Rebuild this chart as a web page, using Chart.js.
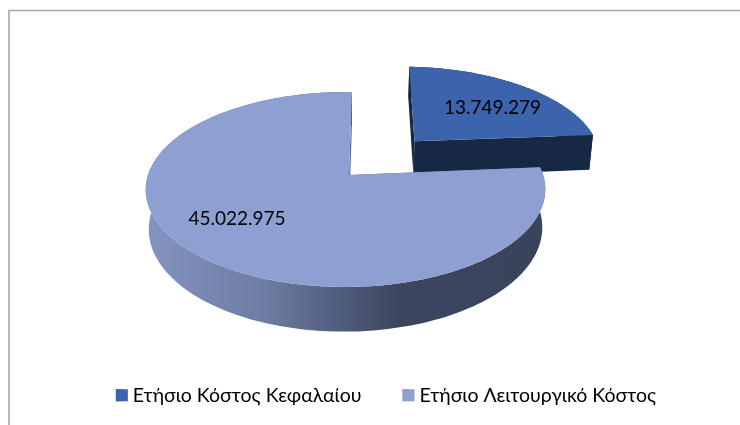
<!DOCTYPE html>
<html><head><meta charset="utf-8">
<style>html,body{margin:0;padding:0;background:#fff}canvas{display:block}</style>
<script src="https://cdn.jsdelivr.net/npm/chart.js@4"></script>
</head><body><canvas id="c" width="740" height="425"></canvas>
<script>
const categories = ["Ετήσιο Κόστος Κεφαλαίου", "Ετήσιο Λειτουργικό Κόστος"];
const values = [13749279, 45022975];
const topColors = ["#3B64AD", "#8EA0D2"];

const FONT = "Lato, 'Noto Sans', sans-serif";
const proj = {cx:349, cy:175, A:197.5, B:95.3, k:0.1487, j:0.0175, depth:38, narrow:0.985};
const explode = [0.515, 0];               // slice pull-out, in radii
const labelShift = [[78,-33],[-112,44]];  // label centre relative to slice apex

function P(u,v,h){
  const w = 1 + proj.k*v + proj.j*u;
  const s = h ? proj.narrow : 1;
  return [proj.cx + s*proj.A*u/w, proj.cy - proj.B*v/w + h*proj.depth/w];
}
function path(ctx,pts){
  ctx.beginPath();
  pts.forEach((p,i)=> i?ctx.lineTo(p[0],p[1]):ctx.moveTo(p[0],p[1]));
  ctx.closePath();
}
function slice3d(ctx,arc,ex,wallFill,radialFill,topFill){
  const mid=(arc.startAngle+arc.endAngle)/2;
  const ox=Math.cos(mid)*ex, oy=-Math.sin(mid)*ex;
  const rim=h=>{const r=[];for(let i=0;i<=160;i++){const t=arc.startAngle+(arc.endAngle-arc.startAngle)*i/160;
    r.push(P(ox+Math.cos(t),oy-Math.sin(t),h));}return r;};
  const c0=P(ox,oy,0), c1=P(ox,oy,1);
  const top=rim(0), bot=rim(1);
  ctx.fillStyle=radialFill;
  path(ctx,[c0,top[0],bot[0],c1]);ctx.fill();
  path(ctx,[c0,top[160],bot[160],c1]);ctx.fill();
  ctx.fillStyle=wallFill;
  path(ctx,top.concat(bot.slice().reverse()));ctx.fill();
  ctx.fillStyle=topFill;
  path(ctx,[c0].concat(top));ctx.fill();
  return c0;
}
const pie3d={id:'pie3d',
  beforeDraw(chart){
    const ctx=chart.ctx;ctx.save();
    ctx.strokeStyle='#a3a3a3';ctx.lineWidth=1.5;
    ctx.beginPath();ctx.moveTo(9,425);ctx.lineTo(9,10.5);ctx.lineTo(740,10.5);ctx.stroke();
    ctx.restore();
  },
  beforeDatasetsDraw(chart){
    const ctx=chart.ctx, arcs=chart.getDatasetMeta(0).data;
    ctx.save();
    const g=ctx.createLinearGradient(146,0,546,0);
    g.addColorStop(0,'#8494c0');g.addColorStop(0.3,'#6d7ca3');g.addColorStop(0.63,'#3b4560');g.addColorStop(1,'#39435b');
    const apex0=slice3d(ctx,arcs[0],explode[0],'#172844','#172844',topColors[0]);
    const apex1=slice3d(ctx,arcs[1],explode[1],g,'#5f6d92',topColors[1]);
    ctx.fillStyle='#000';ctx.font="19px "+FONT;ctx.textAlign='center';ctx.textBaseline='middle';
    [apex0,apex1].forEach((a,i)=>{
      ctx.fillText(values[i].toString().replace(/\B(?=(\d{3})+$)/g,'.'),a[0]+labelShift[i][0],a[1]+labelShift[i][1]);
    });
    ctx.restore();
    return false;
  },
  afterDraw(chart){
    const lg=chart.legend, ctx=chart.ctx;
    lg.legendHitBoxes.forEach((b,i)=>{
      ctx.fillStyle=topColors[i];
      ctx.fillRect(b.left,b.top+(b.height-12)/2,12,12);
    });
  }
};
new Chart(document.getElementById('c'),{
  type:'pie',
  data:{labels:categories,datasets:[{data:values,backgroundColor:topColors,borderWidth:0}]},
  plugins:[pie3d],
  options:{responsive:false,animation:false,rotation:1,
    layout:{padding:{left:32,bottom:10}},
    plugins:{tooltip:{enabled:false},
      legend:{position:'bottom',labels:{font:{family:FONT,size:19.5},color:'#000',boxWidth:7.25,boxHeight:12,padding:41}}}
  }
});
</script></body></html>
